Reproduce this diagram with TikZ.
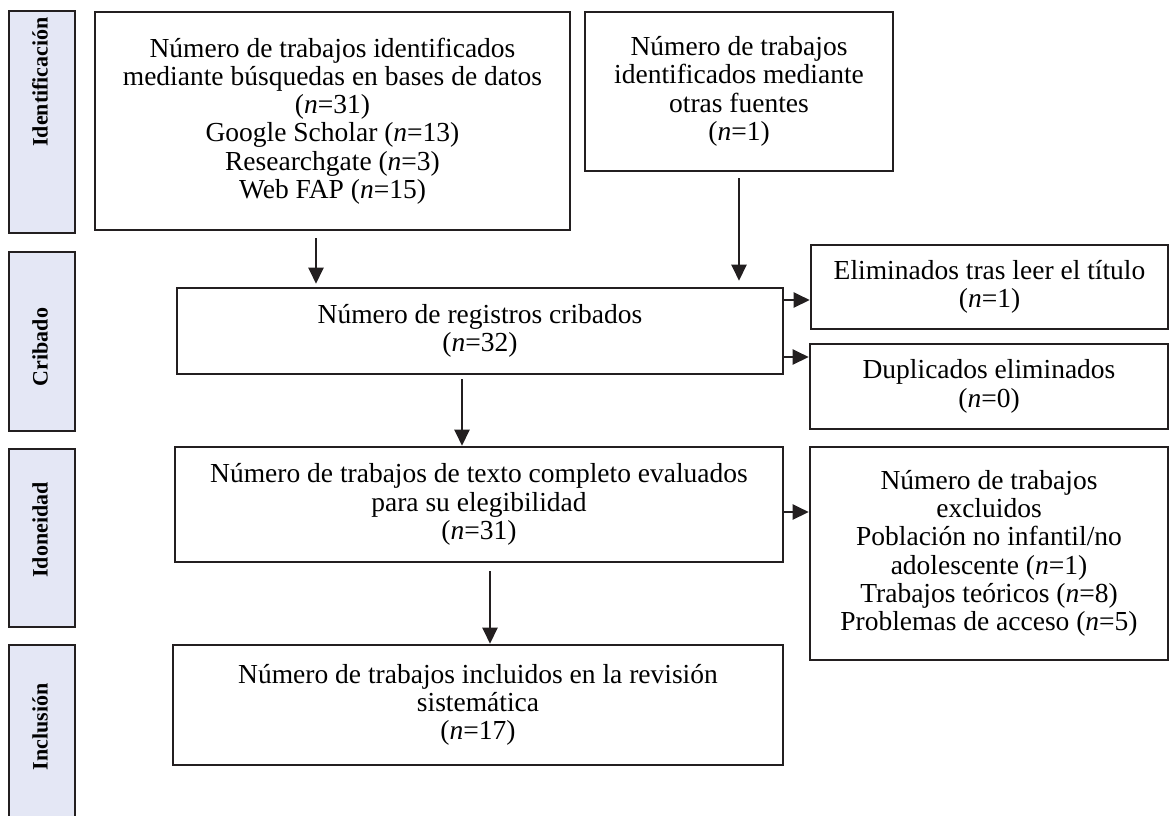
\documentclass[tikz,border=0pt]{standalone}
\usepackage{fontspec}
\setmainfont{Liberation Serif}
\usetikzlibrary{arrows.meta, positioning, calc}
\definecolor{inkline}{RGB}{35,31,32}
\definecolor{stagefill}{RGB}{228,231,245}
\tikzset{
    stage/.style={rectangle, draw=inkline, fill=stagefill, line width=2.6pt, minimum width=66pt, inner sep=0pt},
    stagelabel/.style={rotate=90, font=\bfseries\fontsize{22}{24}\selectfont, text=black},
    stepbox/.style={rectangle, draw=inkline, line width=2.6pt, inner sep=0pt, align=center, font=\fontsize{27.5}{28.3}\selectfont},
    flow/.style={-{Triangle[length=16pt, width=15pt]}, line width=2.4pt, draw=inkline},
}

\begin{document}
\begin{tikzpicture}[x=1pt, y=-1pt]
    \useasboundingbox (0,0) rectangle (1170,815);
    \clip (0,0) rectangle (1170,815);
    % stages on the left
    \node[stage, minimum height=222pt] (sid) at (42,122) {};
    \node[stage, minimum height=179pt] (scr) at (42,341.5) {};
    \node[stage, minimum height=178pt] (sel) at (42,538) {};
    \node[stage, minimum height=195pt] (sin) at (42,742.5) {};
    \node[stagelabel] (lid) at (40,82) {Identificación};
    \node[stagelabel] (lcr) at (40,347) {Cribado};
    \node[stagelabel] (lel) at (40,530) {Idoneidad};
    \node[stagelabel] (lin) at (40,727) {Inclusión};
    % boxes
    \node[stepbox, minimum width=475pt, minimum height=218pt] (db) at (332.5,121) {Número de trabajos identificados\\mediante búsquedas en bases de datos\\(\textit{n}=31)\\Google Scholar (\textit{n}=13)\\Researchgate (\textit{n}=3)\\Web FAP (\textit{n}=15)};
    \node[stepbox, minimum width=308pt, minimum height=159pt] (other) at (739,91.5) {Número de trabajos\\identificados mediante\\otras fuentes\\(\textit{n}=1)};
    \node[stepbox, minimum width=606pt, minimum height=86pt] (crib) at (480,331) {Número de registros cribados\\(\textit{n}=32)};
    \node[stepbox, minimum width=357pt, minimum height=84pt] (elim) at (989.5,287) {Eliminados tras leer el título\\(\textit{n}=1)};
    \node[stepbox, minimum width=358pt, minimum height=85pt] (dup) at (989,386.5) {Duplicados eliminados\\(\textit{n}=0)};
    \node[stepbox, minimum width=608pt, minimum height=115pt] (elig) at (479,504.5) {Número de trabajos de texto completo evaluados\\para su elegibilidad\\(\textit{n}=31)};
    \node[stepbox, minimum width=358pt, minimum height=213pt] (excl) at (989,553.5) {Número de trabajos\\excluidos\\Población no infantil/no\\adolescente (\textit{n}=1)\\Trabajos teóricos (\textit{n}=8)\\Problemas de acceso (\textit{n}=5)};
    \node[stepbox, minimum width=610pt, minimum height=120pt] (incl) at (478,705) {Número de trabajos incluidos en la revisión\\sistemática\\(\textit{n}=17)};
    % arrows
    \coordinate (a1) at ([xshift=-16.5pt]db.south);
    \coordinate (a3) at ([xshift=-18pt]crib.south);
    \coordinate (a4) at ([xshift=11pt]elig.south);
    \coordinate (r1) at ([yshift=31pt]crib.east);
    \coordinate (r2) at ([yshift=-26pt]crib.east);
    \coordinate (r3) at ([yshift=-7.5pt]elig.east);
    \draw[flow, shorten <=7pt, shorten >=3pt] (a1) -- (a1 |- crib.north);
    \draw[flow, shorten <=6pt, shorten >=6pt] (other.south) -- (other.south |- crib.north);
    \draw[flow, shorten <=4pt] (a3) -- (a3 |- elig.north);
    \draw[flow, shorten <=8pt] (a4) -- (a4 |- incl.north);
    \draw[flow] (r1) -- (r1 -| elim.west);
    \draw[flow] (r2) -- (r2 -| dup.west);
    \draw[flow] (r3) -- (r3 -| excl.west);
\end{tikzpicture}
\end{document}
